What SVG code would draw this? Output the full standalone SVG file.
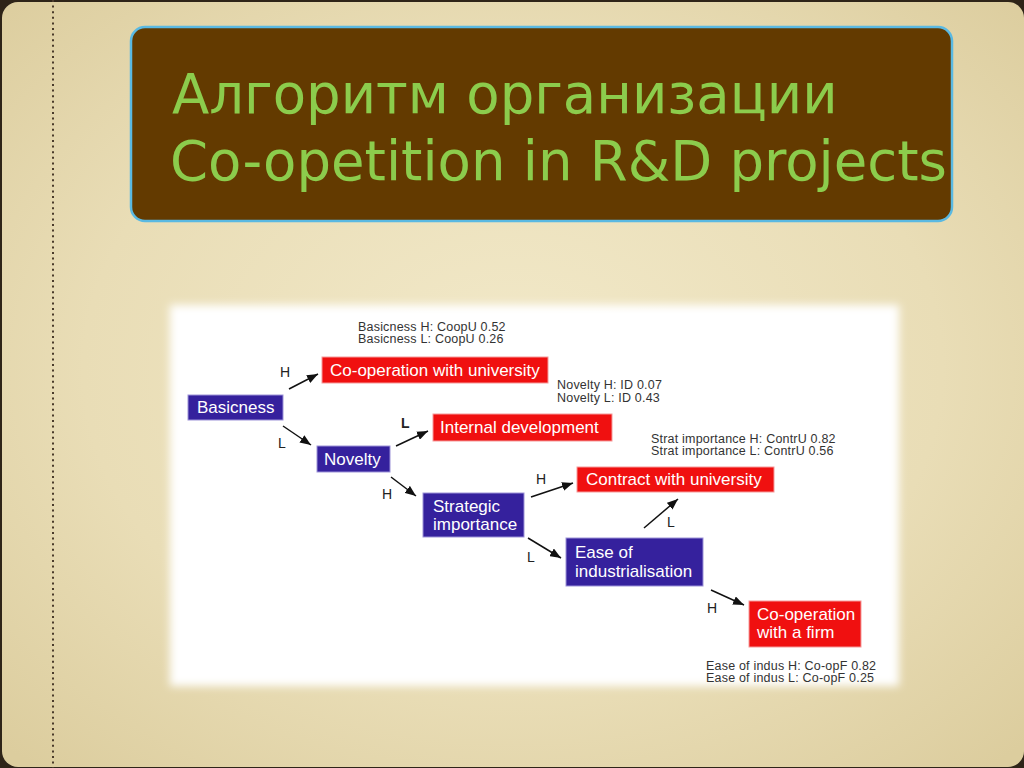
<svg xmlns="http://www.w3.org/2000/svg" width="1024" height="768" viewBox="0 0 1024 768">
<defs>
<radialGradient id="bg" cx="50%" cy="48%" r="70%">
<stop offset="0" stop-color="#f2e9c9"/>
<stop offset="0.6" stop-color="#e9ddb6"/>
<stop offset="1" stop-color="#dccd9e"/>
</radialGradient>
<filter id="feather" x="-5%" y="-5%" width="110%" height="110%">
<feGaussianBlur stdDeviation="4"/>
</filter>
<marker id="ah" viewBox="0 0 10 8" refX="10" refY="4" markerWidth="11" markerHeight="9" markerUnits="userSpaceOnUse" orient="auto">
<path d="M0,0 L10,4 L0,8 z" fill="#111"/>
</marker>
<style>
.title{font-family:"DejaVu Sans",sans-serif;font-size:54.5px;fill:#8ccc4c}
.blue{fill:#35219d;stroke:#9d93d8;stroke-width:1}
.red{fill:#f01010;stroke:#f59a9a;stroke-width:1}
.lbl{font-family:"Liberation Sans",Arial,sans-serif;font-size:17px;fill:#ffffff}
.note{font-family:"Liberation Sans",Arial,sans-serif;font-size:12.5px;fill:#333333;letter-spacing:0.2px}
.hl{font-family:"Liberation Sans",Arial,sans-serif;font-size:14px;fill:#222222}
.edge{stroke:#111;stroke-width:1.5;fill:none;marker-end:url(#ah)}
</style>
</defs>
<rect x="0" y="0" width="1024" height="768" fill="#2e2418"/>
<rect x="2" y="2" width="1022" height="765" rx="16" fill="url(#bg)"/>
<line x1="53" y1="0" x2="53" y2="768" stroke="#4a3b2b" stroke-width="2" stroke-dasharray="2 3.6"/>

<g id="title">
<rect x="131" y="27" width="821" height="194" rx="14" fill="#633a00" stroke="#5ab9e2" stroke-width="2.5"/>
<text class="title" x="172" y="113">Алгоритм организации</text>
<text class="title" x="170" y="180">Co-opetition in R&amp;D projects</text>
</g>

<rect x="170" y="305" width="729" height="381" fill="#ffffff" filter="url(#feather)"/>

<g id="notes">
<text class="note" x="358" y="331">Basicness H: CoopU 0.52</text>
<text class="note" x="358" y="343">Basicness L: CoopU 0.26</text>
<text class="note" x="557" y="389">Novelty H: ID 0.07</text>
<text class="note" x="557" y="402">Novelty L: ID 0.43</text>
<text class="note" x="651" y="443">Strat importance H: ContrU 0.82</text>
<text class="note" x="651" y="455">Strat importance L: ContrU 0.56</text>
<text class="note" x="706" y="670">Ease of indus H: Co-opF 0.82</text>
<text class="note" x="706" y="682">Ease of indus L: Co-opF 0.25</text>
</g>

<g id="connectors">
<path class="edge" d="M289,389 L318,374"/>
<path class="edge" d="M283,426 L311,445"/>
<path class="edge" d="M396,446 L428,431"/>
<path class="edge" d="M391,477 L416,496"/>
<path class="edge" d="M531,497 L573,483"/>
<path class="edge" d="M528,538 L561,558"/>
<path class="edge" d="M644,528 L678,499"/>
<path class="edge" d="M711,590 L744,605"/>
<text class="hl" x="280" y="377">H</text>
<text class="hl" x="278" y="448">L</text>
<text class="hl" x="401" y="428" font-weight="bold">L</text>
<text class="hl" x="382" y="499">H</text>
<text class="hl" x="536" y="484">H</text>
<text class="hl" x="527" y="562">L</text>
<text class="hl" x="667" y="527">L</text>
<text class="hl" x="707" y="613">H</text>
</g>

<g id="basicness">
<rect class="blue" x="188" y="395" width="95" height="25"/>
<text class="lbl" x="197" y="413">Basicness</text>
</g>
<g id="coop-university">
<rect class="red" x="322" y="357" width="226" height="26"/>
<text class="lbl" x="330" y="376">Co-operation with university</text>
</g>
<g id="novelty">
<rect class="blue" x="317" y="446" width="73" height="26"/>
<text class="lbl" x="324" y="465">Novelty</text>
</g>
<g id="internal-development">
<rect class="red" x="433" y="414" width="179" height="27"/>
<text class="lbl" x="440" y="433">Internal development</text>
</g>
<g id="strategic-importance">
<rect class="blue" x="423" y="493" width="101" height="44"/>
<text class="lbl" x="433" y="512">Strategic</text>
<text class="lbl" x="433" y="530">importance</text>
</g>
<g id="contract-university">
<rect class="red" x="577" y="467" width="197" height="25"/>
<text class="lbl" x="586" y="485">Contract with university</text>
</g>
<g id="ease-industrialisation">
<rect class="blue" x="566" y="538" width="137" height="48"/>
<text class="lbl" x="575" y="558">Ease of</text>
<text class="lbl" x="575" y="577">industrialisation</text>
</g>
<g id="coop-firm">
<rect class="red" x="749" y="601" width="112" height="46"/>
<text class="lbl" x="757" y="620">Co-operation</text>
<text class="lbl" x="757" y="638">with a firm</text>
</g>
</svg>
